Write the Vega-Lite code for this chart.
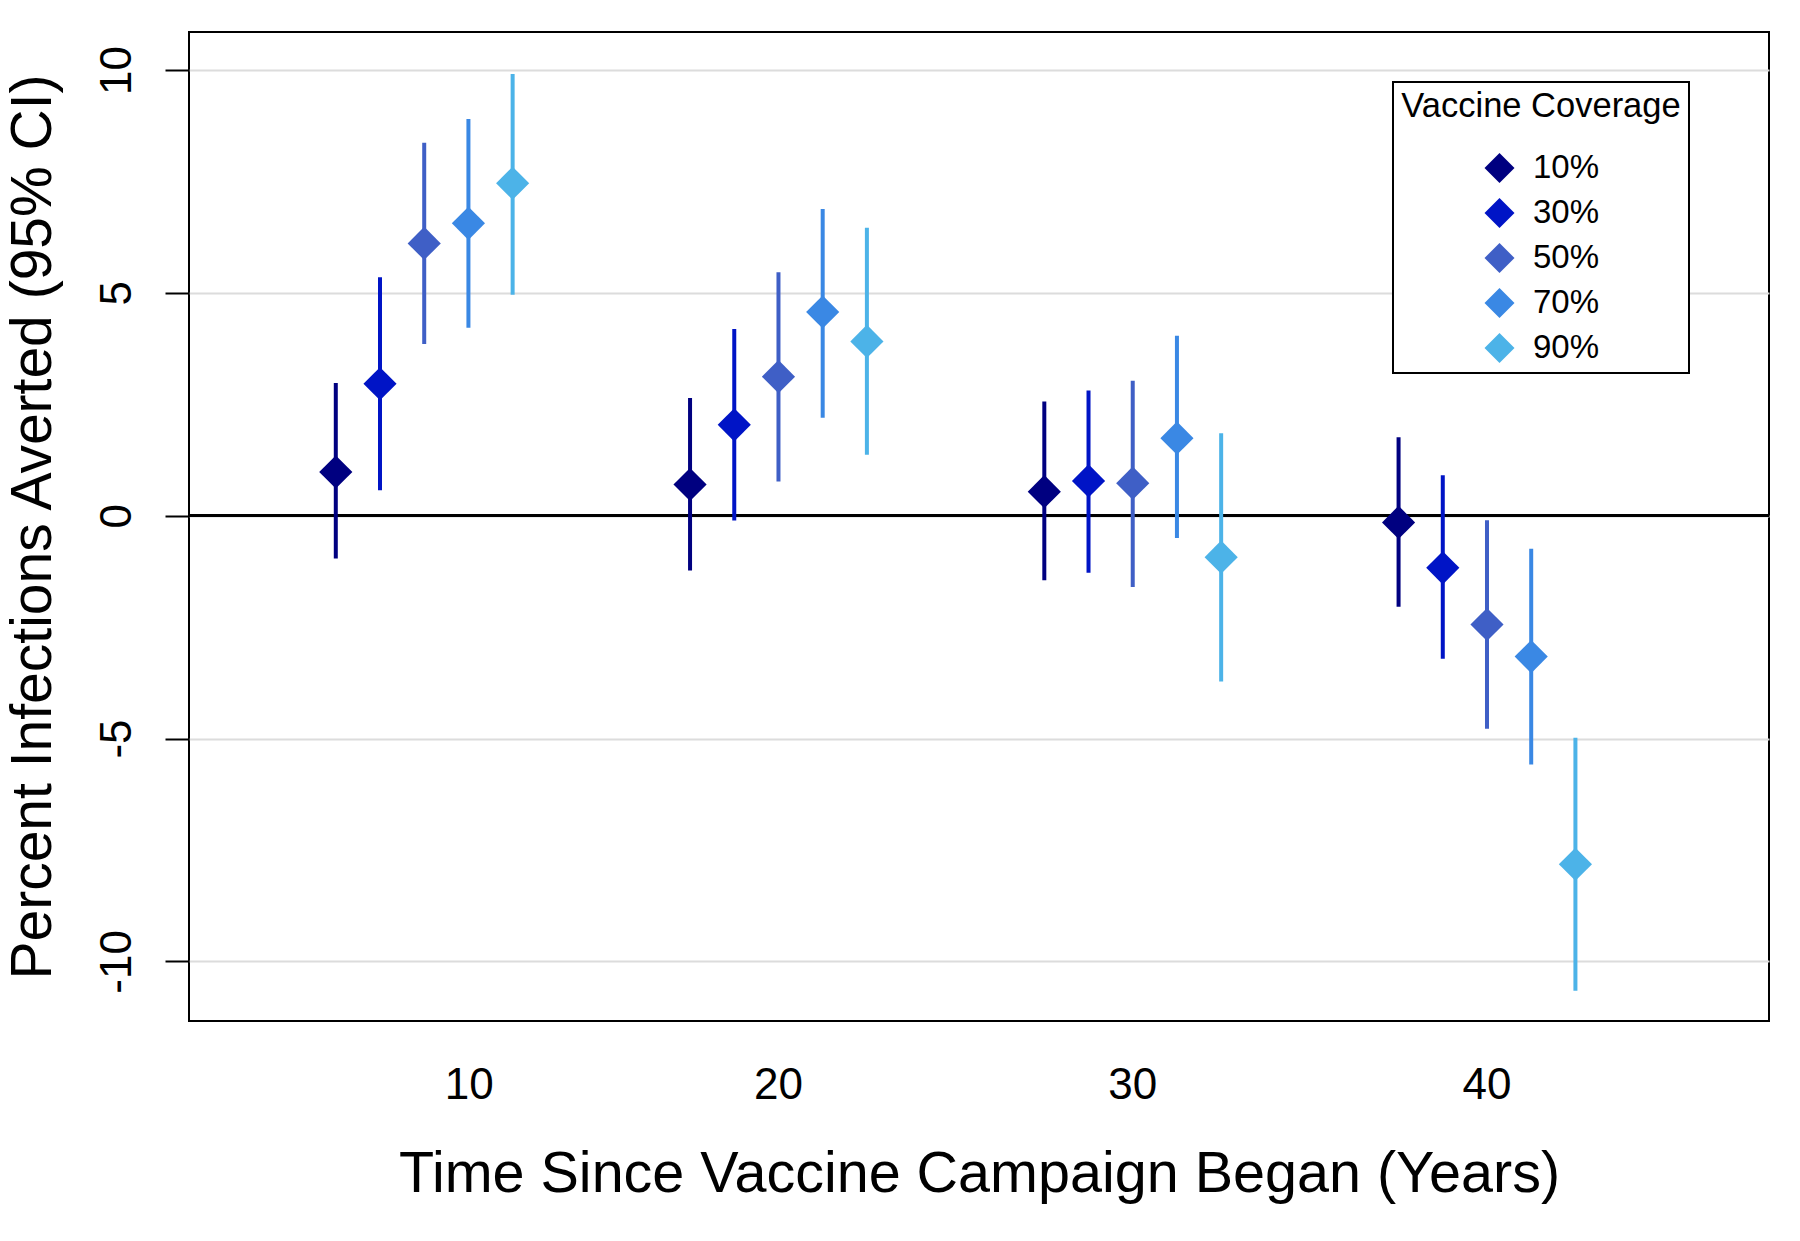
{
  "$schema": "https://vega.github.io/schema/vega-lite/v6.json",
  "width": 1580,
  "height": 989,
  "autosize": {"type": "none"},
  "padding": {"left": 189, "top": 32, "right": 31, "bottom": 220},
  "background": "white",
  "config": {
    "font": "Liberation Sans",
    "view": {"stroke": "black", "strokeWidth": 2}
  },
  "data": {
    "values": [
      {"time": 10, "coverage": "10%", "est": 0.98, "lo": -0.96, "hi": 2.98},
      {"time": 10, "coverage": "30%", "est": 2.96, "lo": 0.57, "hi": 5.35},
      {"time": 10, "coverage": "50%", "est": 6.11, "lo": 3.85, "hi": 8.37},
      {"time": 10, "coverage": "70%", "est": 6.56, "lo": 4.22, "hi": 8.90},
      {"time": 10, "coverage": "90%", "est": 7.46, "lo": 4.96, "hi": 9.91},
      {"time": 20, "coverage": "10%", "est": 0.70, "lo": -1.23, "hi": 2.64},
      {"time": 20, "coverage": "30%", "est": 2.04, "lo": -0.11, "hi": 4.19},
      {"time": 20, "coverage": "50%", "est": 3.12, "lo": 0.77, "hi": 5.46},
      {"time": 20, "coverage": "70%", "est": 4.57, "lo": 2.20, "hi": 6.88},
      {"time": 20, "coverage": "90%", "est": 3.91, "lo": 1.37, "hi": 6.46},
      {"time": 30, "coverage": "10%", "est": 0.54, "lo": -1.45, "hi": 2.56},
      {"time": 30, "coverage": "30%", "est": 0.78, "lo": -1.28, "hi": 2.81},
      {"time": 30, "coverage": "50%", "est": 0.73, "lo": -1.60, "hi": 3.03},
      {"time": 30, "coverage": "70%", "est": 1.74, "lo": -0.50, "hi": 4.04},
      {"time": 30, "coverage": "90%", "est": -0.93, "lo": -3.72, "hi": 1.85},
      {"time": 40, "coverage": "10%", "est": -0.15, "lo": -2.04, "hi": 1.76},
      {"time": 40, "coverage": "30%", "est": -1.17, "lo": -3.21, "hi": 0.91},
      {"time": 40, "coverage": "50%", "est": -2.44, "lo": -4.78, "hi": -0.10},
      {"time": 40, "coverage": "70%", "est": -3.16, "lo": -5.58, "hi": -0.74},
      {"time": 40, "coverage": "90%", "est": -7.82, "lo": -10.66, "hi": -4.98}
    ]
  },
  "encoding": {
    "x": {
      "field": "time",
      "type": "ordinal",
      "title": "Time Since Vaccine Campaign Began (Years)",
      "scale": {"type": "band", "paddingInner": 0.376, "paddingOuter": 0.418, "align": 0.421},
      "axis": {
        "labelAngle": 0,
        "domain": false,
        "ticks": false,
        "grid": false,
        "labelFontSize": 44,
        "labelColor": "black",
        "labelPadding": 42,
        "labelOffset": {"condition": {"test": "datum.value == 10", "value": 45}, "value": 0},
        "titleFontSize": 57.5,
        "titleFontWeight": "normal",
        "titleColor": "black",
        "titlePadding": 39
      }
    },
    "xOffset": {
      "field": "coverage",
      "type": "nominal",
      "scale": {"paddingInner": 0, "paddingOuter": 0}
    },
    "color": {
      "field": "coverage",
      "type": "nominal",
      "scale": {"domain": ["10%", "30%", "50%", "70%", "90%"], "range": ["#000080", "#0014C6", "#3F5FC6", "#3A88E4", "#4CB3E8"]},
      "legend": {
        "orient": "none",
        "legendX": 1204,
        "legendY": 50,
        "direction": "vertical",
        "title": "Vaccine Coverage",
        "titleFontSize": 34.5,
        "titleFontWeight": "normal",
        "titleColor": "black",
        "titleAnchor": "middle",
        "titleLimit": 500,
        "titlePadding": 27,
        "strokeColor": "black",
        "fillColor": "white",
        "padding": 8,
        "symbolType": "diamond",
        "symbolSize": 900,
        "symbolStrokeWidth": 0,
        "symbolOffset": 0,
        "labelFontSize": 33,
        "labelColor": "black",
        "labelOffset": 17,
        "rowPadding": 11,
        "encode": {"legend": {"update": {"strokeWidth": {"value": 2}}}}
      }
    }
  },
  "layer": [
    {
      "mark": {"type": "rule", "color": "black", "strokeWidth": 2},
      "encoding": {"y": {"datum": 0, "type": "quantitative"}, "xOffset": null, "x": null, "color": null}
    },
    {
      "mark": {"type": "rule", "strokeWidth": 4},
      "encoding": {
        "y": {
          "field": "lo",
          "type": "quantitative",
          "title": "Percent Infections Averted (95% CI)",
          "scale": {"domain": [-11.337, 10.853], "nice": false, "zero": false},
          "axis": {
            "values": [-10, -5, 0, 5, 10],
            "labelExpr": "'' + datum.value",
            "domain": false,
            "ticks": true,
            "tickSize": 24,
            "tickWidth": 2,
            "tickColor": "black",
            "grid": true,
            "gridColor": "#dcdcdc",
            "gridWidth": 2,
            "labelAngle": 270,
            "labelAlign": "center",
            "labelBaseline": "bottom",
            "labelFontSize": 44,
            "labelColor": "black",
            "labelPadding": 26,
            "titleFontSize": 57,
            "titleFontWeight": "normal",
            "titleColor": "black",
            "titlePadding": 33
          }
        },
        "y2": {"field": "hi"}
      }
    },
    {
      "mark": {"type": "point", "shape": "diamond", "filled": true, "size": 1100, "opacity": 1},
      "encoding": {
        "y": {"field": "est", "type": "quantitative"}
      }
    }
  ]
}
